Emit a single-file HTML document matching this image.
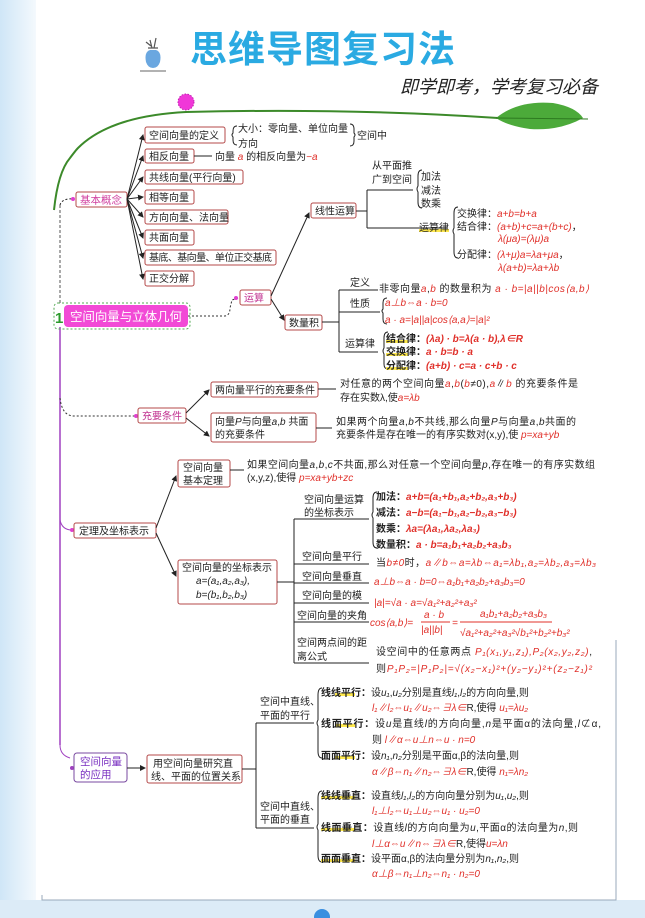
<!DOCTYPE html>
<html><head><meta charset="utf-8"><style>
html,body{margin:0;padding:0;background:#fff;}
svg{display:block;font-family:"Liberation Sans","Noto Sans CJK SC",sans-serif;}
.t{font-size:10px;fill:#222;}
.b{font-size:10.5px;fill:#222;font-weight:bold;}
.r{fill:#e0302a;font-style:italic;}
.box{fill:#fff;stroke:#b44a4a;stroke-width:1;}
.ln{stroke:#222;stroke-width:1;fill:none;}
.hl{fill:#ffe94d;}
</style></head><body>
<svg width="645" height="918" viewBox="0 0 645 918" xmlns="http://www.w3.org/2000/svg">
<defs>
<linearGradient id="lg" x1="0" x2="1"><stop offset="0" stop-color="#cfe6f7"/><stop offset="1" stop-color="#f4f9fd"/></linearGradient>
<marker id="ar" markerWidth="6" markerHeight="6" refX="5" refY="3" orient="auto"><path d="M0,0 L6,3 L0,6 z" fill="#222"/></marker>
</defs>
<rect x="0" y="0" width="645" height="918" fill="#fff"/>
<rect x="0" y="0" width="36" height="918" fill="url(#lg)"/>
<rect x="0" y="900" width="645" height="18" fill="#dcebf7"/>
<path d="M42,895 L42,900 L616,900 L616,640" stroke="#9ab" stroke-width="1" fill="none"/>
<circle cx="322" cy="917" r="8" fill="#3a8fe0"/>
<!-- title -->
<g transform="translate(140,38)">
<path d="M6,24 Q4,14 10,12 L16,12 Q22,14 20,24 Q18,30 13,30 Q8,30 6,24 z" fill="#6aa7e0"/>
<path d="M8,10 L18,10 M10,2 L12,10 M16,0 L14,10 M6,4 L11,8" stroke="#555" stroke-width="1.2"/>
<line x1="0" y1="33" x2="26" y2="33" stroke="#666"/>
</g>
<text x="190" y="62" font-size="37" font-weight="bold" fill="#2aaae2" textLength="265">思维导图复习法</text>
<text x="400" y="93" font-size="18" fill="#222" font-style="italic" textLength="198">即学即考，学考复习必备</text>
<!-- vine -->
<path d="M54,210 Q58,172 70,158 Q76,150 78,148 Q110,116 186,112 Q350,108 498,118" stroke="#3c8a2a" stroke-width="2" fill="none"/>
<circle cx="186" cy="102" r="8" fill="#f037d8" stroke="#c020b0" stroke-dasharray="1.5 1.5"/>
<path d="M496,118 Q518,100 553,103 Q576,107 583,118 Q560,131 530,129 Q508,126 496,118 z" fill="#4caa3a"/>
<path d="M496,118 L588,119" stroke="#2d7a20" stroke-width="1"/>

<!-- main spine -->
<path d="M60,205 L60,305" stroke="#555" stroke-dasharray="3 2"/>
<path d="M60,327 L60,745" stroke="#a040c0" stroke-width="1.5"/>
<path d="M60,745 Q60,755 70,758" stroke="#a040c0" fill="none"/>
<path d="M60,205 Q62,198 74,199" class="ln" stroke-dasharray="2 2"/>
<path d="M60,398 Q62,416 74,416 L136,416" stroke="#333" stroke-dasharray="2 2" fill="none"/>
<circle cx="136" cy="416" r="2" fill="#e040d0"/>
<path d="M60,520 Q62,530 72,530" stroke="#a040c0" fill="none"/>
<circle cx="72" cy="530" r="2" fill="#e040d0"/>
<circle cx="72" cy="768" r="2" fill="#a040c0"/>

<!-- main node -->
<rect x="54" y="303" width="136" height="26" rx="4" fill="none" stroke="#5a5" stroke-dasharray="2 2"/>
<rect x="64" y="305" width="124" height="22" rx="4" fill="#f24ad6"/>
<text x="55" y="323" font-size="15" font-weight="bold" fill="#2c9a2c">1</text>
<text x="70" y="321" font-size="12.5" fill="#fff" textLength="112">空间向量与立体几何</text>
<path d="M188,316 L224,316 Q230,316 230,308 L232,300 L238,298" stroke="#333" stroke-dasharray="2 2" fill="none"/>
<circle cx="236" cy="298" r="2" fill="#e040d0"/>

<!-- 基本概念 -->
<rect x="76" y="192" width="51" height="15" rx="2" class="box"/>
<text x="80" y="203.5" font-size="10.5" fill="#d040a0">基本概念</text>
<circle cx="73" cy="199" r="2" fill="#e040d0"/>
<g class="ln">
<path d="M127,199 L143,135" marker-end="url(#ar)"/>
<path d="M127,199 L143,156" marker-end="url(#ar)"/>
<path d="M127,199 L143,177" marker-end="url(#ar)"/>
<path d="M127,199 L143,197" marker-end="url(#ar)"/>
<path d="M127,199 L143,217" marker-end="url(#ar)"/>
<path d="M127,199 L143,238" marker-end="url(#ar)"/>
<path d="M127,199 L143,258" marker-end="url(#ar)"/>
<path d="M127,199 L143,279" marker-end="url(#ar)"/>
</g>
<rect x="145" y="127" width="80" height="16" rx="2" class="box"/><text x="149" y="139" class="t">空间向量的定义</text>
<rect x="145" y="149" width="49" height="14" rx="2" class="box"/><text x="149" y="160" class="t">相反向量</text>
<rect x="145" y="170" width="98" height="14" rx="2" class="box"/><text x="149" y="181" class="t">共线向量(平行向量)</text>
<rect x="145" y="190" width="49" height="14" rx="2" class="box"/><text x="149" y="201" class="t">相等向量</text>
<rect x="145" y="210" width="83" height="14" rx="2" class="box"/><text x="149" y="221" class="t">方向向量、法向量</text>
<rect x="145" y="230" width="49" height="15" rx="2" class="box"/><text x="149" y="241" class="t">共面向量</text>
<rect x="145" y="250" width="131" height="15" rx="2" class="box"/><text x="149" y="261" class="t" textLength="123">基底、基向量、单位正交基底</text>
<rect x="145" y="271" width="49" height="15" rx="2" class="box"/><text x="149" y="282" class="t">正交分解</text>
<path d="M237,126 Q233,126 233,131 L233,133 Q231,135 233,137 L233,140 Q233,145 237,145" class="ln"/>
<text x="238" y="132" class="t">大小：零向量、单位向量</text>
<text x="238" y="147" class="t">方向</text>
<path d="M350,124 Q354,124 354,129 L354,133 Q356,135 354,137 L354,141 Q354,146 350,146" class="ln"/>
<text x="357" y="139" class="t">空间中</text>
<line x1="194" y1="156" x2="212" y2="156" class="ln"/>
<text x="215" y="160" class="t">向量 <tspan class="r">a</tspan> 的相反向量为<tspan class="r">−a</tspan></text>

<!-- 运算 -->
<rect x="240" y="290" width="31" height="15" rx="2" class="box"/><text x="244" y="301.5" class="t" style="fill:#c03090">运算</text>
<path d="M271,296 L309,213" class="ln" marker-end="url(#ar)"/>
<path d="M271,299 L284,320" class="ln" marker-end="url(#ar)"/>
<rect x="311" y="203" width="45" height="15" rx="2" class="box"/><text x="315" y="214.5" class="t">线性运算</text>
<rect x="285" y="315" width="37" height="15" rx="2" class="box"/><text x="289" y="326.5" class="t">数量积</text>
<path d="M356,211 L367,211 M367,190 L367,228 M367,190 L413,190 M367,228 L448,228" class="ln"/>
<text x="372" y="169" class="t">从平面推</text>
<text x="372" y="183" class="t">广到空间</text>
<path d="M422,170 Q418,170 418,176 L418,186 Q416,189 418,192 L418,202 Q418,208 422,208" class="ln"/>
<text x="421" y="180" class="t">加法</text><text x="421" y="194" class="t">减法</text><text x="421" y="207" class="t">数乘</text>
<rect x="419" y="229" width="30" height="3" class="hl"/>
<text x="419" y="231" class="t">运算律</text>
<path d="M458,207 Q454,207 454,213 L454,228 Q452,231 454,234 L454,252 Q454,258 458,258" class="ln"/>
<text x="457" y="217" class="t">交换律：<tspan class="r">a+b=b+a</tspan></text>
<text x="457" y="230" class="t">结合律：<tspan class="r">(a+b)+c=a+(b+c)</tspan>，</text>
<text x="498" y="242" class="t"><tspan class="r">λ(μa)=(λμ)a</tspan></text>
<text x="457" y="258" class="t">分配律：<tspan class="r">(λ+μ)a=λa+μa</tspan>，</text>
<text x="498" y="271" class="t"><tspan class="r">λ(a+b)=λa+λb</tspan></text>

<path d="M322,322 L339,322 M339,290 L339,352 M339,290 L378,290 M339,312 L380,312 M339,352 L378,352" class="ln"/>
<text x="350" y="286" class="t">定义</text>
<text x="379" y="292" class="t" textLength="210">非零向量<tspan class="r">a</tspan>,<tspan class="r">b</tspan> 的数量积为 <tspan class="r">a · b=|a||b|cos⟨a,b⟩</tspan></text>
<text x="350" y="307" class="t">性质</text>
<path d="M387,298 Q383,298 383,303 L383,309 Q381,311 383,313 L383,319 Q383,324 387,324" class="ln"/>
<text x="385" y="306" class="t"><tspan class="r">a⊥b⇔a · b=0</tspan></text>
<text x="385" y="323" class="t"><tspan class="r">a · a=|a||a|cos⟨a,a⟩=|a|²</tspan></text>
<text x="345" y="347" class="t">运算律</text>
<path d="M388,332 Q384,332 384,338 L384,348 Q382,351 384,354 L384,364 Q384,369 388,369" class="ln"/>
<rect x="386" y="340" width="22" height="3" class="hl"/><rect x="386" y="353" width="22" height="3" class="hl"/><rect x="386" y="367" width="22" height="3" class="hl"/>
<text x="386" y="342" class="t" font-weight="bold">结合律：<tspan class="r">(λa) · b=λ(a · b),λ∈R</tspan></text>
<text x="386" y="355" class="t" font-weight="bold">交换律：<tspan class="r">a · b=b · a</tspan></text>
<text x="386" y="369" class="t" font-weight="bold">分配律：<tspan class="r">(a+b) · c=a · c+b · c</tspan></text>

<!-- 充要条件 -->
<rect x="138" y="408" width="48" height="15" rx="2" class="box"/><text x="142" y="419.5" class="t" style="fill:#c03090">充要条件</text>
<path d="M186,413 L209,390" class="ln" marker-end="url(#ar)"/>
<path d="M186,418 L209,436" class="ln" marker-end="url(#ar)"/>
<rect x="211" y="382" width="107" height="15" rx="2" class="box"/><text x="215" y="393.5" class="t">两向量平行的充要条件</text>
<line x1="318" y1="389" x2="336" y2="389" class="ln"/>
<text x="340" y="387" class="t" textLength="238">对任意的两个空间向量<tspan class="r">a</tspan>,<tspan class="r">b</tspan>(<tspan class="r">b</tspan>≠0),<tspan class="r">a</tspan>∥<tspan class="r">b</tspan> 的充要条件是</text>
<text x="340" y="401" class="t">存在实数λ,使<tspan class="r">a=λb</tspan></text>
<rect x="211" y="413" width="105" height="29" rx="2" class="box"/>
<text x="215" y="425" class="t">向量<tspan font-style="italic">P</tspan>与向量<tspan font-style="italic">a</tspan>,<tspan font-style="italic">b</tspan> 共面</text>
<text x="215" y="438" class="t">的充要条件</text>
<line x1="316" y1="428" x2="332" y2="428" class="ln"/>
<text x="336" y="425" class="t" textLength="240">如果两个向量<tspan font-style="italic">a</tspan>,<tspan font-style="italic">b</tspan>不共线,那么向量<tspan font-style="italic">P</tspan>与向量<tspan font-style="italic">a</tspan>,<tspan font-style="italic">b</tspan>共面的</text>
<text x="336" y="438" class="t">充要条件是存在唯一的有序实数对(x,y),使 <tspan class="r">p=xa+yb</tspan></text>

<!-- 定理及坐标表示 -->
<rect x="74" y="523" width="82" height="15" rx="2" class="box"/><text x="79" y="534.5" class="t">定理及坐标表示</text>
<path d="M156,528 L176,476" class="ln" marker-end="url(#ar)"/>
<path d="M156,533 L176,576" class="ln" marker-end="url(#ar)"/>
<rect x="178" y="460" width="52" height="27" rx="2" class="box"/>
<text x="183" y="471" class="t">空间向量</text><text x="183" y="484" class="t">基本定理</text>
<line x1="230" y1="470" x2="244" y2="470" class="ln"/>
<text x="247" y="468" class="t" textLength="348">如果空间向量<tspan font-style="italic">a</tspan>,<tspan font-style="italic">b</tspan>,<tspan font-style="italic">c</tspan>不共面,那么对任意一个空间向量<tspan font-style="italic">p</tspan>,存在唯一的有序实数组</text>
<text x="247" y="481" class="t">(x,y,z),使得 <tspan class="r">p=xa+yb+zc</tspan></text>
<rect x="178" y="560" width="99" height="44" rx="2" class="box"/>
<text x="182" y="571" class="t">空间向量的坐标表示</text>
<text x="196" y="584" class="t" font-style="italic">a=(a₁,a₂,a₃),</text>
<text x="196" y="598" class="t" font-style="italic">b=(b₁,b₂,b₃)</text>
<path d="M277,582 L294,582 M294,519 L294,663" class="ln"/>
<path d="M294,519 L369,519 M294,564 L369,564 M294,583 L369,583 M294,603 L369,603 M294,622 L369,622 M294,663 L369,663" class="ln"/>
<text x="304" y="503" class="t">空间向量运算</text><text x="304" y="516" class="t">的坐标表示</text>
<text x="302" y="560" class="t">空间向量平行</text>
<text x="302" y="580" class="t">空间向量垂直</text>
<text x="302" y="599" class="t">空间向量的模</text>
<text x="297" y="619" class="t">空间向量的夹角</text>
<text x="297" y="646" class="t">空间两点间的距</text><text x="297" y="660" class="t">离公式</text>
<path d="M377,492 Q373,492 373,498 L373,512 Q371,515 373,518 L373,542 Q373,548 377,548" class="ln"/>
<text x="376" y="500" class="t" font-weight="bold">加法：<tspan class="r">a+b=(a₁+b₁,a₂+b₂,a₃+b₃)</tspan></text>
<text x="376" y="516" class="t" font-weight="bold">减法：<tspan class="r">a−b=(a₁−b₁,a₂−b₂,a₃−b₃)</tspan></text>
<text x="376" y="532" class="t" font-weight="bold">数乘：<tspan class="r">λa=(λa₁,λa₂,λa₃)</tspan></text>
<text x="376" y="548" class="t" font-weight="bold">数量积：<tspan class="r">a · b=a₁b₁+a₂b₂+a₃b₃</tspan></text>
<text x="376" y="566" class="t" textLength="220">当<tspan class="r">b≠0</tspan>时，<tspan class="r">a∥b⇔a=λb⇔a₁=λb₁,a₂=λb₂,a₃=λb₃</tspan></text>
<text x="374" y="585" class="t"><tspan class="r">a⊥b⇔a · b=0⇔a₁b₁+a₂b₂+a₃b₃=0</tspan></text>
<text x="374" y="606" class="t"><tspan class="r">|a|=√a · a=√a₁²+a₂²+a₃²</tspan></text>
<text x="370" y="626" class="t"><tspan class="r">cos⟨a,b⟩=</tspan></text>
<line x1="421" y1="622" x2="450" y2="622" stroke="#e0302a"/>
<text x="424" y="618" class="t r">a · b</text><text x="421" y="633" class="t r">|a||b|</text>
<text x="452" y="626" class="t r">=</text>
<line x1="460" y1="622" x2="552" y2="622" stroke="#e0302a"/>
<text x="480" y="617" class="t r">a₁b₁+a₂b₂+a₃b₃</text>
<text x="460" y="636" class="t r">√a₁²+a₂²+a₃²√b₁²+b₂²+b₃²</text>
<text x="376" y="655" class="t" textLength="216">设空间中的任意两点 <tspan class="r">P₁(x₁,y₁,z₁),P₂(x₂,y₂,z₂)</tspan>,</text>
<text x="376" y="672" class="t" textLength="216">则<tspan class="r">P₁P₂=|P₁P₂|=√(x₂−x₁)²+(y₂−y₁)²+(z₂−z₁)²</tspan></text>

<!-- 空间向量的应用 -->
<rect x="74" y="753" width="53" height="29" rx="3" fill="#fff" stroke="#7a4aa0"/>
<text x="80" y="765" font-size="10.5" fill="#7a30c0">空间向量</text><text x="80" y="778" font-size="10.5" fill="#7a30c0">的应用</text>
<path d="M127,768 L145,768" class="ln" marker-end="url(#ar)"/>
<rect x="147" y="755" width="95" height="28" rx="2" class="box"/>
<text x="153" y="767" class="t">用空间向量研究直</text><text x="151" y="780" class="t">线、平面的位置关系</text>
<path d="M242,769 L256,769 M256,723 L256,828 M256,723 L314,723 M256,828 L314,828" class="ln"/>
<text x="260" y="705" class="t">空间中直线、</text><text x="260" y="719" class="t">平面的平行</text>
<text x="260" y="810" class="t">空间中直线、</text><text x="260" y="823" class="t">平面的垂直</text>
<path d="M322,688 Q318,688 318,695 L318,720 Q316,723 318,726 L318,751 Q318,758 322,758" class="ln"/>
<path d="M322,791 Q318,791 318,798 L318,824 Q316,827 318,830 L318,855 Q318,862 322,862" class="ln"/>
<g class="hl"><rect x="335" y="693" width="20" height="3"/><rect x="335" y="724" width="20" height="3"/><rect x="335" y="756" width="20" height="3"/><rect x="321" y="796" width="34" height="3"/><rect x="321" y="828" width="34" height="3"/><rect x="321" y="859" width="34" height="3"/></g>
<text x="321" y="696" class="t"><tspan font-weight="bold">线线平行：</tspan>设<tspan font-style="italic">u₁</tspan>,<tspan font-style="italic">u₂</tspan>分别是直线<tspan font-style="italic">l₁</tspan>,<tspan font-style="italic">l₂</tspan>的方向向量,则</text>
<text x="372" y="711" class="t"><tspan class="r">l₁∥l₂⇔u₁∥u₂⇔∃λ∈</tspan>R,使得 <tspan class="r">u₁=λu₂</tspan></text>
<text x="321" y="727" class="t" textLength="280"><tspan font-weight="bold">线面平行：</tspan>设<tspan font-style="italic">u</tspan>是直线<tspan font-style="italic">l</tspan>的方向向量,<tspan font-style="italic">n</tspan>是平面α的法向量,<tspan font-style="italic">l</tspan>⊄α,</text>
<text x="372" y="743" class="t">则 <tspan class="r">l∥α⇔u⊥n⇔u · n=0</tspan></text>
<text x="321" y="759" class="t"><tspan font-weight="bold">面面平行：</tspan>设<tspan font-style="italic">n₁</tspan>,<tspan font-style="italic">n₂</tspan>分别是平面α,β的法向量,则</text>
<text x="372" y="775" class="t"><tspan class="r">α∥β⇔n₁∥n₂⇔∃λ∈</tspan>R,使得 <tspan class="r">n₁=λn₂</tspan></text>
<text x="321" y="799" class="t"><tspan font-weight="bold">线线垂直：</tspan>设直线<tspan font-style="italic">l₁</tspan>,<tspan font-style="italic">l₂</tspan>的方向向量分别为<tspan font-style="italic">u₁</tspan>,<tspan font-style="italic">u₂</tspan>,则</text>
<text x="372" y="814" class="t"><tspan class="r">l₁⊥l₂⇔u₁⊥u₂⇔u₁ · u₂=0</tspan></text>
<text x="321" y="831" class="t" textLength="257"><tspan font-weight="bold">线面垂直：</tspan>设直线<tspan font-style="italic">l</tspan>的方向向量为<tspan font-style="italic">u</tspan>,平面α的法向量为<tspan font-style="italic">n</tspan>,则</text>
<text x="372" y="847" class="t"><tspan class="r">l⊥α⇔u∥n⇔∃λ∈</tspan>R,使得<tspan class="r">u=λn</tspan></text>
<text x="321" y="862" class="t"><tspan font-weight="bold">面面垂直：</tspan>设平面α,β的法向量分别为<tspan font-style="italic">n₁</tspan>,<tspan font-style="italic">n₂</tspan>,则</text>
<text x="372" y="877" class="t"><tspan class="r">α⊥β⇔n₁⊥n₂⇔n₁ · n₂=0</tspan></text>
</svg>
</body></html>
